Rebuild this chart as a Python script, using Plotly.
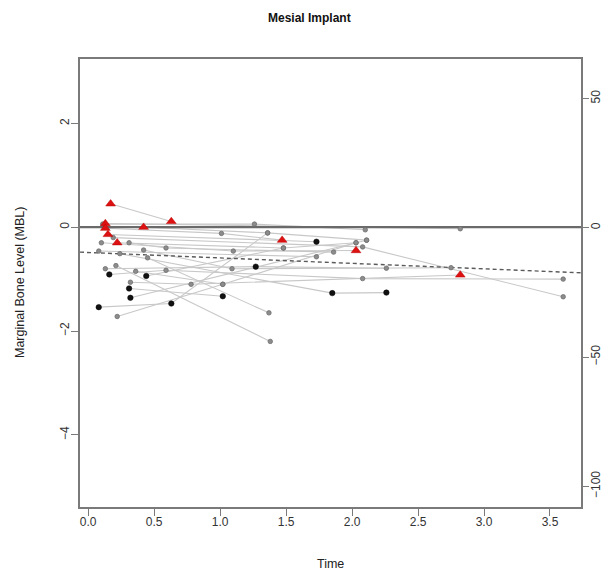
import plotly.graph_objects as go

# ---- data ----
subject_time = [
    [0.17, 0.63],
    [0.13, 2.82],
    [0.11, 1.26, 2.10],
    [0.42, 1.36, 2.11],
    [0.13, 1.01, 1.47],
    [0.15, 1.73],
    [0.22, 1.48, 2.03],
    [0.10, 1.10, 2.03],
    [0.19, 2.08, 3.60],
    [0.31, 0.59, 1.86],
    [0.08, 1.73],
    [0.42, 1.09, 2.75],
    [0.24, 1.85, 2.26],
    [0.45, 1.37],
    [0.21, 1.38],
    [0.13, 1.27, 2.26],
    [0.16, 0.59, 2.08, 3.60],
    [0.36, 1.02],
    [0.32, 0.78, 2.82],
    [0.31, 1.02],
    [0.32, 2.11],
    [0.08, 0.63, 1.36],
    [0.22, 1.02, 2.03],
    [0.44, 1.48],
]
subject_mbl = [
    [0.45, 0.11],
    [0.07, -0.03],
    [0.06, 0.06, -0.05],
    [0.00, -0.11, -0.25],
    [-0.02, -0.12, -0.25],
    [-0.14, -0.28],
    [-0.30, -0.40, -0.30],
    [-0.30, -0.46, -0.45],
    [-0.20, -0.38, -1.34],
    [-0.30, -0.40, -0.48],
    [-0.46, -0.57],
    [-0.44, -0.80, -0.78],
    [-0.51, -1.27, -1.26],
    [-0.59, -1.65],
    [-0.74, -2.20],
    [-0.80, -0.76, -0.79],
    [-0.91, -0.83, -0.99, -1.00],
    [-0.85, -1.10],
    [-1.06, -1.10, -0.92],
    [-1.18, -1.33],
    [-1.36, -0.25],
    [-1.54, -1.47, -0.11],
    [-1.72, -1.10, -0.30],
    [-0.94, -0.40],
]
# g = grey point, k = black point, r = red triangle
subject_group = [
    ["r", "r"],
    ["r", "g"],
    ["g", "g", "g"],
    ["r", "g", "g"],
    ["r", "g", "r"],
    ["r", "k"],
    ["r", "g", "g"],
    ["g", "g", "r"],
    ["g", "g", "g"],
    ["g", "g", "g"],
    ["g", "g"],
    ["g", "g", "g"],
    ["g", "k", "k"],
    ["g", "g"],
    ["g", "g"],
    ["g", "k", "g"],
    ["k", "g", "g", "g"],
    ["g", "g"],
    ["g", "g", "r"],
    ["k", "k"],
    ["k", "g"],
    ["k", "k", "g"],
    ["g", "g", "g"],
    ["k", "g"],
]
trend_intercept = -0.487
trend_slope = -0.105

x_ticks = [0.0, 0.5, 1.0, 1.5, 2.0, 2.5, 3.0, 3.5]
x_ticklabels = ["0.0", "0.5", "1.0", "1.5", "2.0", "2.5", "3.0", "3.5"]
y_ticks = [-4, -2, 0, 2]
y2_ticks = [-100, -50, 0, 50]

x_range = [-0.062, 3.735]
y_range = [-5.39, 3.24]
y2_range = [-108.0, 65.3]

# ---- figure ----
W, H = 615, 573
OFF = 8  # page body margin
L, R, T, B = 80 - OFF, W - (581.5 - OFF), 58.6 - OFF, H - (507.5 - OFF)
plot_w = W - L - R
plot_h = H - T - B


def px(xp):
    return (xp - OFF - L) / plot_w


def py(yp):
    return 1 - (yp - OFF - T) / plot_h


fig = go.Figure()

line_col = "#c8c8c8"
for t, m in zip(subject_time, subject_mbl):
    fig.add_trace(go.Scatter(x=t, y=m, mode="lines",
                             line=dict(color=line_col, width=1.1),
                             hoverinfo="skip", showlegend=False))

# regression (dashed) line
fig.add_trace(go.Scatter(
    x=x_range,
    y=[trend_intercept + trend_slope * v for v in x_range],
    mode="lines", line=dict(color="#5a5a5a", width=1.4, dash="4px,3px"),
    showlegend=False, hoverinfo="skip"))

# zero line
fig.add_trace(go.Scatter(x=x_range, y=[0, 0], mode="lines",
                         line=dict(color="#6a6a6a", width=2.2),
                         showlegend=False, hoverinfo="skip"))

styles = {
    "g": dict(symbol="circle", size=4.5, color="#8c8c8c",
              line=dict(color="#6e6e6e", width=0.8)),
    "k": dict(symbol="circle", size=5.5, color="#111111",
              line=dict(color="#000000", width=0.5)),
    "r": dict(symbol="triangle-up", size=8.5, color="#dd1111",
              line=dict(color="#bb0000", width=0.5)),
}
for grp in ["g", "k", "r"]:
    xs, ys = [], []
    for t, m, g in zip(subject_time, subject_mbl, subject_group):
        for a, b, c in zip(t, m, g):
            if c == grp:
                xs.append(a)
                ys.append(b)
    fig.add_trace(go.Scatter(x=xs, y=ys, mode="markers",
                             marker=styles[grp], showlegend=False))

# invisible trace to anchor the right axis
fig.add_trace(go.Scatter(x=[x_range[0]], y=[0], yaxis="y2", mode="markers",
                         marker=dict(opacity=0), showlegend=False,
                         hoverinfo="skip"))

tick_font = dict(family="Liberation Sans, Arial, sans-serif", size=12,
                 color="#333333")
title_font = dict(family="Liberation Sans, Arial, sans-serif", size=12.5,
                  color="#222222")
frame_col = "#7a7a7a"

fig.update_layout(
    width=W, height=H,
    margin=dict(l=L, r=R, t=T, b=B, autoexpand=False),
    paper_bgcolor="white", plot_bgcolor="white",
    font=tick_font,
    xaxis=dict(range=x_range, tickvals=x_ticks, ticktext=x_ticklabels,
               showgrid=False, zeroline=False, showline=True, mirror=True,
               linecolor=frame_col, linewidth=1.5,
               ticks="outside", ticklen=7, tickcolor=frame_col, tickwidth=1.2,
               tickfont=tick_font, ticklabelstandoff=-4),
    yaxis=dict(range=y_range, tickvals=y_ticks, showgrid=False,
               zeroline=False, showline=True, mirror=True,
               linecolor=frame_col, linewidth=1.5,
               ticks="outside", ticklen=7, tickcolor=frame_col, tickwidth=1.2,
               tickangle=-90, tickfont=tick_font, ticklabelstandoff=-3),
    yaxis2=dict(range=y2_range, tickvals=y2_ticks, overlaying="y",
                side="right", showgrid=False, zeroline=False,
                showline=False, ticks="outside", ticklen=7,
                tickcolor=frame_col, tickwidth=1.2, tickangle=-90,
                tickfont=tick_font, ticklabelstandoff=-3),
    annotations=[
        dict(text="<b>Mesial Implant</b>", x=px(310), y=py(18),
             xref="paper", yref="paper", showarrow=False,
             xanchor="center", yanchor="middle",
             font=dict(family="Liberation Sans, Arial, sans-serif",
                       size=12, color="#111111")),
        dict(text="Time", x=px(331), y=py(565),
             xref="paper", yref="paper", showarrow=False,
             xanchor="center", yanchor="middle", font=title_font),
        dict(text="Marginal Bone Level (MBL)", x=px(20), y=py(283),
             xref="paper", yref="paper", showarrow=False, textangle=-90,
             xanchor="center", yanchor="middle", font=title_font),
    ],
)

fig.write_html("out.html")
